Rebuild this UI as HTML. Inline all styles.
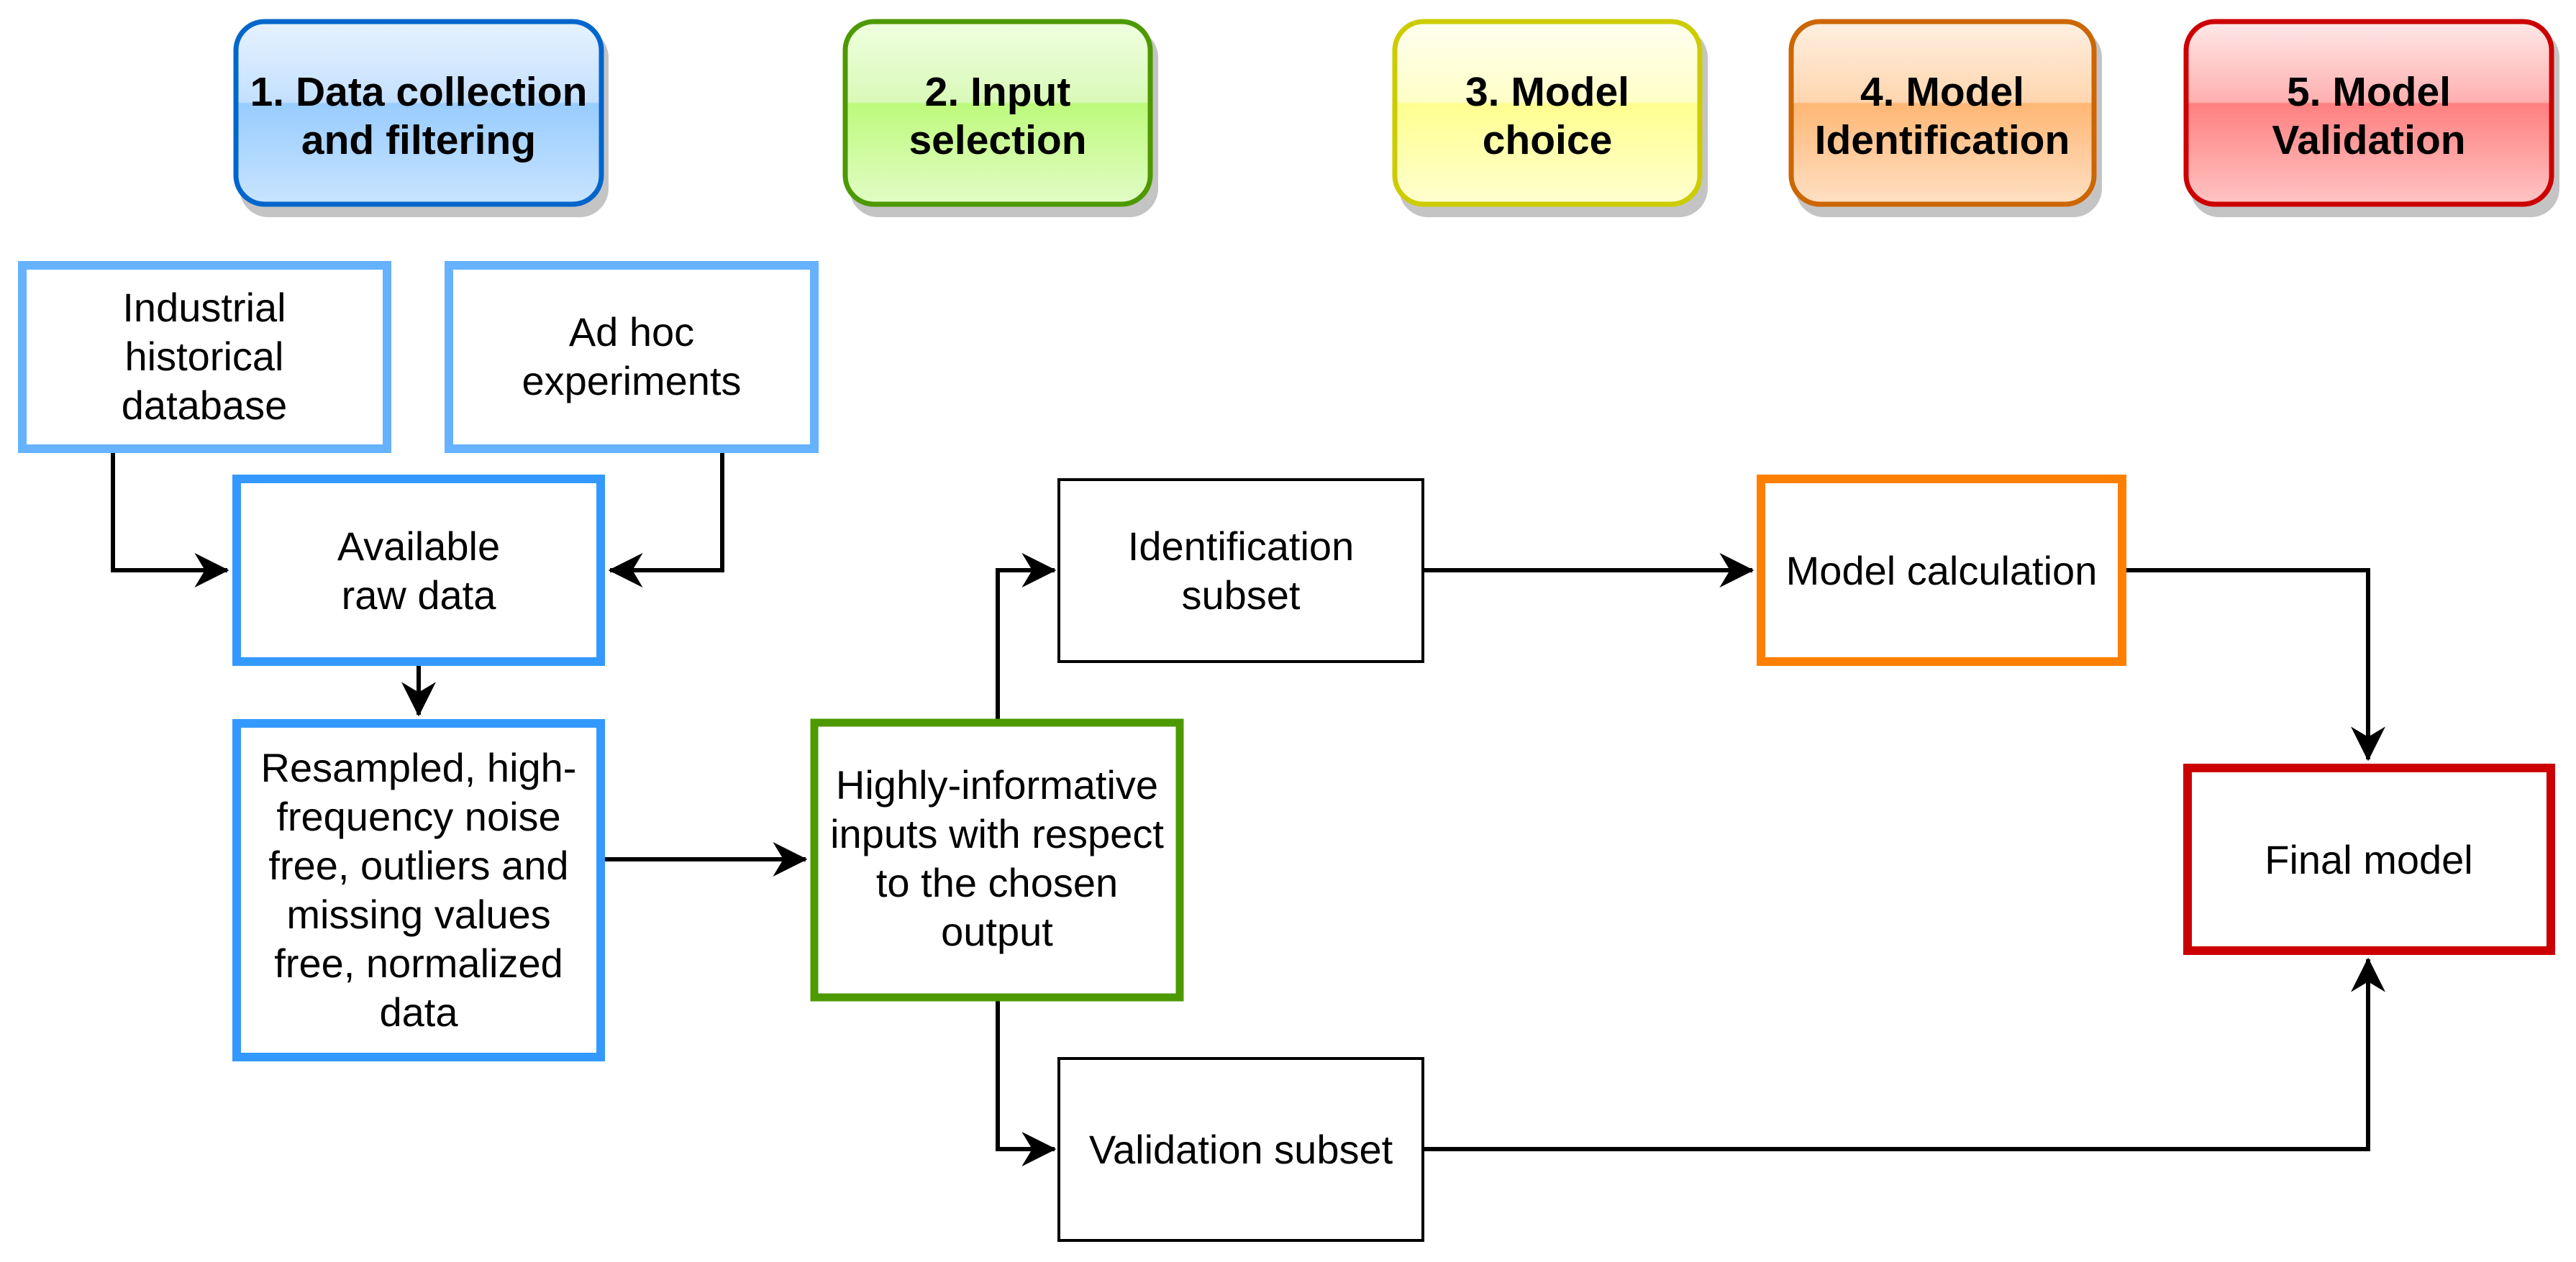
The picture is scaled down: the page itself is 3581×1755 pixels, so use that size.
<!DOCTYPE html>
<html><head><meta charset="utf-8"><style>
html,body{margin:0;padding:0;background:#fff;}
svg{display:block;}
text{font-family:"Liberation Sans",Arial,sans-serif;font-size:56px;fill:#000;text-anchor:middle;}
.b{font-weight:bold;font-size:57px;}
</style></head><body>
<svg width="3581" height="1755" viewBox="0 0 3581 1755" xmlns="http://www.w3.org/2000/svg">
<defs>
<linearGradient id="g1" x1="0" y1="0" x2="0" y2="1"><stop offset="0" stop-color="#e6f2ff"/><stop offset="0.44" stop-color="#c4e0ff"/><stop offset="0.45" stop-color="#99ccff"/><stop offset="1" stop-color="#c8e4ff"/></linearGradient>
<linearGradient id="g2" x1="0" y1="0" x2="0" y2="1"><stop offset="0" stop-color="#efffe0"/><stop offset="0.44" stop-color="#daf9b8"/><stop offset="0.45" stop-color="#bdfa7c"/><stop offset="1" stop-color="#e2fcc6"/></linearGradient>
<linearGradient id="g3" x1="0" y1="0" x2="0" y2="1"><stop offset="0" stop-color="#fffff0"/><stop offset="0.44" stop-color="#ffffc8"/><stop offset="0.45" stop-color="#ffff90"/><stop offset="1" stop-color="#ffffd0"/></linearGradient>
<linearGradient id="g4" x1="0" y1="0" x2="0" y2="1"><stop offset="0" stop-color="#fff0e2"/><stop offset="0.44" stop-color="#ffd6ae"/><stop offset="0.45" stop-color="#ffb775"/><stop offset="1" stop-color="#ffe0c4"/></linearGradient>
<linearGradient id="g5" x1="0" y1="0" x2="0" y2="1"><stop offset="0" stop-color="#ffe8e8"/><stop offset="0.44" stop-color="#ffb0b0"/><stop offset="0.45" stop-color="#ff8080"/><stop offset="1" stop-color="#ffc4c4"/></linearGradient>
<marker id="ar" viewBox="0 0 10 10" refX="9.5" refY="5" markerWidth="8" markerHeight="8" markerUnits="strokeWidth" orient="auto">
<path d="M0,0 L10,5 L0,10 L3,5 Z" fill="#000"/></marker>
</defs>

<!-- header shadows -->
<g fill="#c4c4c4">
<rect x="333" y="40" width="513" height="262" rx="40"/>
<rect x="1181" y="40" width="429" height="262" rx="40"/>
<rect x="1945" y="40" width="429" height="262" rx="40"/>
<rect x="2496" y="40" width="426" height="262" rx="40"/>
<rect x="3045" y="40" width="513" height="262" rx="40"/>
</g>
<!-- headers -->
<rect x="328" y="30" width="508" height="254" rx="40" fill="url(#g1)" stroke="#0066cc" stroke-width="7"/>
<rect x="1175" y="30" width="424" height="254" rx="40" fill="url(#g2)" stroke="#4d9900" stroke-width="7"/>
<rect x="1939" y="30" width="424" height="254" rx="40" fill="url(#g3)" stroke="#cccc00" stroke-width="7"/>
<rect x="2490" y="30" width="421" height="254" rx="40" fill="url(#g4)" stroke="#cc6600" stroke-width="7"/>
<rect x="3039" y="30" width="508" height="254" rx="40" fill="url(#g5)" stroke="#cc0000" stroke-width="7"/>

<text class="b" x="582" y="147">1. Data collection</text><text class="b" x="582" y="214">and filtering</text>
<text class="b" x="1387" y="147">2. Input</text><text class="b" x="1387" y="214">selection</text>
<text class="b" x="2151" y="147">3. Model</text><text class="b" x="2151" y="214">choice</text>
<text class="b" x="2700" y="147">4. Model</text><text class="b" x="2700" y="214">Identification</text>
<text class="b" x="3293" y="147">5. Model</text><text class="b" x="3293" y="214">Validation</text>

<!-- connectors -->
<g stroke="#000" stroke-width="6" fill="none">
<path d="M157,630 V793 H316" marker-end="url(#ar)"/>
<path d="M1004,630 V793 H848" marker-end="url(#ar)"/>
<path d="M582,926 V994" marker-end="url(#ar)"/>
<path d="M841,1195 H1120" marker-end="url(#ar)"/>
<path d="M1387,1000 V793 H1466" marker-end="url(#ar)"/>
<path d="M1387,1392 V1598 H1466" marker-end="url(#ar)"/>
<path d="M1979,793 H2436" marker-end="url(#ar)"/>
<path d="M2956,793 H3292 V1056" marker-end="url(#ar)"/>
<path d="M1979,1598 H3292 V1334" marker-end="url(#ar)"/>
</g>

<!-- boxes -->
<g fill="#fff">
<rect x="31" y="369" width="507" height="255" stroke="#66b2ff" stroke-width="12"/>
<rect x="624" y="369" width="508" height="255" stroke="#66b2ff" stroke-width="12"/>
<rect x="329" y="666" width="506" height="254" stroke="#3399ff" stroke-width="12"/>
<rect x="329" y="1006" width="506" height="464" stroke="#3399ff" stroke-width="12"/>
<rect x="1132" y="1005" width="508" height="382" stroke="#4d9900" stroke-width="11"/>
<rect x="1472" y="667" width="506" height="253" stroke="#000" stroke-width="4"/>
<rect x="1472" y="1472" width="506" height="253" stroke="#000" stroke-width="4"/>
<rect x="2448" y="666" width="502" height="254" stroke="#ff8000" stroke-width="12"/>
<rect x="3041" y="1068" width="505" height="254" stroke="#cc0000" stroke-width="12"/>
</g>

<text x="284" y="447">Industrial</text><text x="284" y="515">historical</text><text x="284" y="583">database</text>
<text x="878" y="481">Ad hoc</text><text x="878" y="549">experiments</text>
<text x="582" y="779">Available</text><text x="582" y="847">raw data</text>
<text x="582" y="1087">Resampled, high-</text><text x="582" y="1155">frequency noise</text><text x="582" y="1223">free, outliers and</text><text x="582" y="1291">missing values</text><text x="582" y="1359">free, normalized</text><text x="582" y="1427">data</text>
<text x="1386" y="1111">Highly-informative</text><text x="1386" y="1179">inputs with respect</text><text x="1386" y="1247">to the chosen</text><text x="1386" y="1315">output</text>
<text x="1725" y="779">Identification</text><text x="1725" y="847">subset</text>
<text x="1725" y="1618">Validation subset</text>
<text x="2699" y="813">Model calculation</text>
<text x="3293" y="1215">Final model</text>
</svg>
</body></html>
